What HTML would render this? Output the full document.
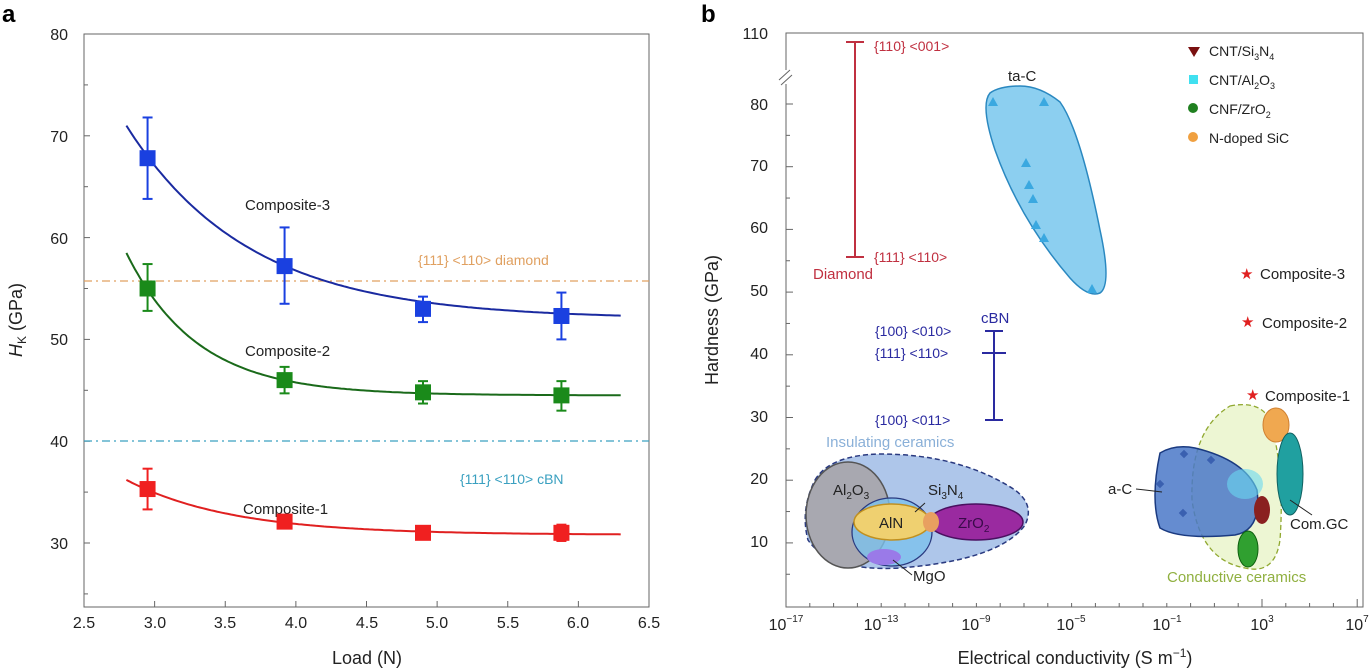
<!DOCTYPE html>
<html><head><meta charset="utf-8"><style>
html,body{margin:0;padding:0;background:#fff;}
svg{display:block;font-family:"Liberation Sans",sans-serif;}
</style></head><body>
<svg id="s" width="1370" height="670" viewBox="0 0 1370 670" xmlns="http://www.w3.org/2000/svg">
<rect width="1370" height="670" fill="#fff"/>
<text x="2" y="22" font-size="24" font-weight="bold">a</text>
<rect x="84" y="34" width="565" height="573" fill="none" stroke="#666" stroke-width="1"/>
<g id="ax" stroke="#666" stroke-width="1"></g>
<g font-size="16" fill="#222" text-anchor="end">
<text x="68" y="40">80</text><text x="68" y="142">70</text><text x="68" y="244">60</text>
<text x="68" y="345">50</text><text x="68" y="447">40</text><text x="68" y="549">30</text>
</g>
<g font-size="16" fill="#222" text-anchor="middle">
<text x="84" y="628">2.5</text><text x="155" y="628">3.0</text><text x="225" y="628">3.5</text>
<text x="296" y="628">4.0</text><text x="367" y="628">4.5</text><text x="437" y="628">5.0</text>
<text x="508" y="628">5.5</text><text x="578" y="628">6.0</text><text x="649" y="628">6.5</text>
</g>
<text x="367" y="664" font-size="18" text-anchor="middle" fill="#222">Load (N)</text>
<text transform="translate(22,320) rotate(-90)" font-size="18" text-anchor="middle" fill="#222"><tspan font-style="italic">H</tspan><tspan font-size="12" dy="4">K</tspan><tspan dy="-4"> (GPa)</tspan></text>
<line x1="84" y1="281" x2="649" y2="281" stroke="#e0a060" stroke-width="1.3" stroke-dasharray="8,4,2,4"/>
<line x1="84" y1="441" x2="649" y2="441" stroke="#3aa0c0" stroke-width="1.3" stroke-dasharray="8,4,2,4"/>
<text x="418" y="265" font-size="14" fill="#e0a060">{111} &lt;110&gt; diamond</text>
<text x="460" y="484" font-size="14" fill="#3aa0c0">{111} &lt;110&gt; cBN</text>
<text x="245" y="210" font-size="15" fill="#222">Composite-3</text>
<text x="245" y="356" font-size="15" fill="#222">Composite-2</text>
<text x="243" y="514" font-size="15" fill="#222">Composite-1</text>
<g id="curves"></g>

<text x="701" y="22" font-size="24" font-weight="bold">b</text>
<rect x="786" y="33" width="577" height="574" fill="none" stroke="#666" stroke-width="1"/>
<g id="bx" stroke="#666" stroke-width="1"></g>
<rect x="780" y="70" width="12" height="14" fill="#fff"/>
<line x1="779" y1="80" x2="790" y2="70" stroke="#666"/><line x1="781" y1="85" x2="792" y2="75" stroke="#666"/>
<g font-size="16" fill="#222" text-anchor="end">
<text x="768" y="39">110</text><text x="768" y="110">80</text><text x="768" y="171">70</text>
<text x="768" y="233">60</text><text x="768" y="296">50</text><text x="768" y="359">40</text>
<text x="768" y="422">30</text><text x="768" y="484">20</text><text x="768" y="547">10</text>
</g>
<g font-size="16" fill="#222" text-anchor="middle">
<text x="786" y="630">10<tspan font-size="10" dy="-8">−17</tspan></text>
<text x="881" y="630">10<tspan font-size="10" dy="-8">−13</tspan></text>
<text x="976" y="630">10<tspan font-size="10" dy="-8">−9</tspan></text>
<text x="1071" y="630">10<tspan font-size="10" dy="-8">−5</tspan></text>
<text x="1167" y="630">10<tspan font-size="10" dy="-8">−1</tspan></text>
<text x="1262" y="630">10<tspan font-size="10" dy="-8">3</tspan></text>
<text x="1357" y="630">10<tspan font-size="10" dy="-8">7</tspan></text>
</g>
<text x="1075" y="664" font-size="18" text-anchor="middle" fill="#222">Electrical conductivity (S m<tspan font-size="12" dy="-7">−1</tspan><tspan dy="7">)</tspan></text>
<text transform="translate(718,320) rotate(-90)" font-size="18" text-anchor="middle" fill="#222">Hardness (GPa)</text>

<g stroke="#c03040" stroke-width="2"><line x1="855" y1="42" x2="855" y2="257"/><line x1="846" y1="42" x2="864" y2="42"/><line x1="846" y1="257" x2="864" y2="257"/></g>
<g font-size="14" fill="#c03040"><text x="874" y="51">{110} &lt;001&gt;</text><text x="874" y="262">{111} &lt;110&gt;</text><text x="813" y="279" font-size="15">Diamond</text></g>
<g stroke="#2a2aa0" stroke-width="2"><line x1="994" y1="331" x2="994" y2="420"/><line x1="985" y1="331" x2="1003" y2="331"/><line x1="982" y1="353" x2="1006" y2="353"/><line x1="985" y1="420" x2="1003" y2="420"/></g>
<g font-size="14" fill="#2a2aa0"><text x="875" y="336">{100} &lt;010&gt;</text><text x="875" y="358">{111} &lt;110&gt;</text><text x="875" y="425">{100} &lt;011&gt;</text><text x="981" y="323" font-size="15">cBN</text></g>
<path d="M990,93 Q1000,86 1020,86 Q1040,86 1060,102 Q1080,130 1100,230 Q1112,285 1100,293 Q1088,298 1070,278 Q1020,220 995,150 Q980,105 990,93 Z" fill="#8ccff0" stroke="#2a88c0" stroke-width="1.5"/>
<g fill="#3aa8e0" id="tri"></g>
<text x="1008" y="81" font-size="15" fill="#222">ta-C</text>
<text x="826" y="447" font-size="15" fill="#8ab0d8">Insulating ceramics</text>
<path d="M815,480 Q830,455 880,454 Q960,454 1015,490 Q1035,505 1025,525 Q1000,560 900,568 Q830,572 808,540 Q800,510 815,480 Z" fill="#aec6ea" stroke="#2a3a80" stroke-width="1.5" stroke-dasharray="5,3"/>
<ellipse cx="848" cy="515" rx="42" ry="53" fill="#a8a8b0" stroke="#555" stroke-width="1.5"/>
<ellipse cx="892" cy="532" rx="40" ry="34" fill="#7cc0ec" fill-opacity="0.8" stroke="#2a3a80" stroke-width="1.3"/>
<ellipse cx="976" cy="522" rx="47" ry="18" fill="#9a2aa0" stroke="#4a1060" stroke-width="1.5"/>
<ellipse cx="892" cy="522" rx="38" ry="18" fill="#efd070" stroke="#c09020" stroke-width="1.5"/>
<ellipse cx="931" cy="522" rx="8" ry="10" fill="#e8a060"/>
<ellipse cx="884" cy="557" rx="17" ry="8" fill="#9a7ae8"/>
<g font-size="15" fill="#222">
<text x="833" y="495">Al<tspan font-size="10" dy="4">2</tspan><tspan dy="-4">O</tspan><tspan font-size="10" dy="4">3</tspan></text>
<text x="928" y="495">Si<tspan font-size="10" dy="4">3</tspan><tspan dy="-4">N</tspan><tspan font-size="10" dy="4">4</tspan></text>
<text x="879" y="528">AlN</text>
<text x="958" y="528" fill="#3a0a4a">ZrO<tspan font-size="10" dy="4">2</tspan></text>
<text x="913" y="581">MgO</text>
</g>
<line x1="925" y1="503" x2="915" y2="512" stroke="#222"/><line x1="893" y1="560" x2="912" y2="575" stroke="#222"/>
<path d="M1230,406 Q1260,400 1270,420 Q1285,470 1280,540 Q1275,575 1245,568 Q1200,560 1192,500 Q1190,430 1230,406 Z" fill="#e8f4c8" fill-opacity="0.8" stroke="#90a830" stroke-width="1.3" stroke-dasharray="5,3"/>
<path d="M1160,453 Q1175,444 1195,448 Q1245,460 1257,490 Q1262,530 1235,535 Q1180,540 1160,528 Q1150,500 1160,453 Z" fill="#4a78c8" fill-opacity="0.85" stroke="#1a3a80" stroke-width="1.5"/>
<ellipse cx="1245" cy="484" rx="18" ry="15" fill="#6ad8f0" fill-opacity="0.6"/>
<ellipse cx="1262" cy="510" rx="8" ry="14" fill="#8a2020"/>
<ellipse cx="1276" cy="425" rx="13" ry="17" fill="#f0a850" stroke="#d08030"/>
<ellipse cx="1290" cy="474" rx="13" ry="41" fill="#20a0a0" stroke="#106060"/>
<ellipse cx="1248" cy="549" rx="10" ry="18" fill="#30a030" stroke="#106010"/>
<g fill="#3a60b0"><rect x="1181" y="451" width="6" height="6" transform="rotate(45 1184 454)"/><rect x="1157" y="481" width="6" height="6" transform="rotate(45 1160 484)"/><rect x="1180" y="510" width="6" height="6" transform="rotate(45 1183 513)"/><rect x="1208" y="457" width="6" height="6" transform="rotate(45 1211 460)"/></g>
<text x="1108" y="494" font-size="15" fill="#222">a-C</text><line x1="1136" y1="489" x2="1162" y2="492" stroke="#222"/>
<text x="1290" y="529" font-size="15" fill="#222">Com.GC</text><line x1="1290" y1="500" x2="1312" y2="515" stroke="#222"/>
<text x="1167" y="582" font-size="15" fill="#90b040">Conductive ceramics</text>
<g fill="#e02020" font-size="15"><text x="1240" y="279">★</text><text x="1241" y="327">★</text><text x="1246" y="400">★</text></g>
<g font-size="15" fill="#222"><text x="1260" y="279">Composite-3</text><text x="1262" y="328">Composite-2</text><text x="1265" y="401">Composite-1</text></g>
<path d="M1188,47 L1200,47 L1194,57 Z" fill="#7a1010"/>
<rect x="1189" y="75" width="9" height="9" fill="#40e0f0"/>
<circle cx="1193" cy="108" r="5" fill="#208020"/>
<circle cx="1193" cy="137" r="5" fill="#f0a040"/>
<g font-size="14" fill="#222">
<text x="1209" y="56">CNT/Si<tspan font-size="9" dy="4">3</tspan><tspan dy="-4">N</tspan><tspan font-size="9" dy="4">4</tspan></text>
<text x="1209" y="85">CNT/Al<tspan font-size="9" dy="4">2</tspan><tspan dy="-4">O</tspan><tspan font-size="9" dy="4">3</tspan></text>
<text x="1209" y="114">CNF/ZrO<tspan font-size="9" dy="4">2</tspan></text>
<text x="1209" y="143">N-doped SiC</text>
</g>
</svg>
<script>
var NS="http://www.w3.org/2000/svg";
function el(p,t,a){var e=document.createElementNS(NS,t);for(var k in a)e.setAttribute(k,a[k]);p.appendChild(e);return e;}
function X(v){return 84+(v-2.5)*141.25;} function Y(v){return 34+(80-v)*10.18;}
var ax=document.getElementById('ax');
for(var v=2.5;v<=6.51;v+=0.5){el(ax,'line',{x1:X(v),y1:607,x2:X(v),y2:601});}
for(var v=25;v<=80;v+=5){el(ax,'line',{x1:84,y1:Y(v),x2:(v%10==0?90:88),y2:Y(v)});}
var cv=document.getElementById('curves');
var ser=[{c:'#1a2aa0',f:'#1a40e0',b:52,A:19,t:0.867,p:[[2.95,67.8,63.8,71.8],[3.92,57.2,53.5,61],[4.9,53,51.7,54.2],[5.88,52.3,50,54.6]]},
{c:'#1a6a1a',f:'#1a8a1a',b:44.5,A:14,t:0.5,p:[[2.95,55,52.8,57.4],[3.92,46,44.7,47.3],[4.9,44.8,43.7,45.9],[5.88,44.5,43,45.9]]},
{c:'#e02020',f:'#f02020',b:30.8,A:5.4,t:0.745,p:[[2.95,35.3,33.3,37.3],[3.92,32.1,31.5,32.7],[4.9,31,30.4,31.6],[5.88,31,30.2,31.8]]}];
ser.forEach(function(s){var d='';for(var x=2.8;x<=6.301;x+=0.02){var y=s.b+s.A*Math.exp(-(x-2.8)/s.t);d+=(d?'L':'M')+X(x).toFixed(1)+','+Y(y).toFixed(1);}
el(cv,'path',{d:d,fill:'none',stroke:s.c,'stroke-width':2});
s.p.forEach(function(p){var x=X(p[0]);el(cv,'line',{x1:x,y1:Y(p[2]),x2:x,y2:Y(p[3]),stroke:s.f,'stroke-width':2});
el(cv,'line',{x1:x-5,y1:Y(p[2]),x2:x+5,y2:Y(p[2]),stroke:s.f,'stroke-width':2});el(cv,'line',{x1:x-5,y1:Y(p[3]),x2:x+5,y2:Y(p[3]),stroke:s.f,'stroke-width':2});
el(cv,'rect',{x:x-8,y:Y(p[1])-8,width:16,height:16,fill:s.f});});});
var bx=document.getElementById('bx');
for(var e=-17;e<=7;e++){var x=786+(e+17)*23.8;el(bx,'line',{x1:x,y1:607,x2:x,y2:(e%4==3||e==-17?599:603)});}
for(var v=5;v<=80;v+=5){var y=104+(80-v)*6.27;el(bx,'line',{x1:786,y1:y,x2:(v%10==0?793:790),y2:y});}
el(bx,'line',{x1:786,y1:33,x2:793,y2:33});
var tr=document.getElementById('tri');
[[993,102],[1044,102],[1026,163],[1029,185],[1033,199],[1036,225],[1044,238],[1092,289]].forEach(function(p){el(tr,'path',{d:'M'+p[0]+','+(p[1]-5)+'L'+(p[0]+5)+','+(p[1]+4)+'L'+(p[0]-5)+','+(p[1]+4)+'Z'});});
</script>
</body></html>
